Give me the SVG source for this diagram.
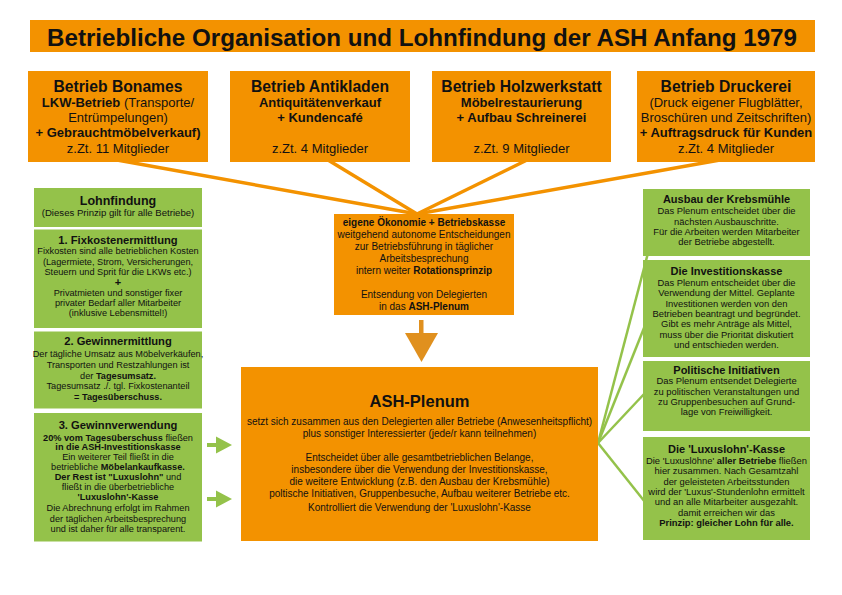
<svg xmlns="http://www.w3.org/2000/svg" width="842" height="595" viewBox="0 0 842 595">
<style>
.o{fill:#F39200}
.g{fill:#94C24A}
.t{font-family:"Liberation Sans",Arial,Helvetica,sans-serif;fill:#111;text-anchor:middle}
.b{font-weight:bold}
.top{font-size:13px}
.toph{font-size:15.7px;font-weight:bold}
.sm{font-size:9.2px}
.smh{font-size:11.2px;font-weight:bold}
.rs{font-size:9.4px}
.rsh{font-size:11px;font-weight:bold}
.md{font-size:10px}
.ol{stroke:#F39200;stroke-width:3.5;fill:none}
.gl{stroke:#94C24A;stroke-width:2.5;fill:none}
.ga{fill:#94C24A}
</style>
<rect width="842" height="595" fill="#fff"/>

<g id="title">
<rect class="o" x="30" y="20" width="785" height="32"/>
<text class="t b" x="422" y="46" font-size="24" textLength="750" lengthAdjust="spacingAndGlyphs">Betriebliche Organisation und Lohnfindung der ASH Anfang 1979</text>
</g>

<g id="connectors">
<line class="ol" x1="117" y1="160" x2="417" y2="214"/>
<line class="ol" x1="328" y1="160" x2="417" y2="214"/>
<line class="ol" x1="527" y1="160" x2="417" y2="214"/>
<line class="ol" x1="720" y1="160" x2="417" y2="214"/>
<rect x="419" y="320" width="4.5" height="14" fill="#E0901E"/>
<polygon points="405,333 438,333 421.5,362" fill="#E0901E"/>
<polygon class="ga" points="207,443 216,443 216,436.5 232,445 216,453.5 216,447 207,447"/>
<polygon class="ga" points="207,497 216,497 216,490.5 232,499 216,507.5 216,501 207,501"/>
<line class="gl" x1="598" y1="443" x2="663" y2="196"/>
<line class="gl" x1="598" y1="443" x2="650" y2="313"/>
<line class="gl" x1="598" y1="443" x2="645" y2="393"/>
<line class="gl" x1="598" y1="443" x2="645" y2="502"/>
</g>

<g id="betrieb-bonames">
<rect class="o" x="28" y="71" width="180" height="91"/>
<text class="t toph" x="118" y="92">Betrieb Bonames</text>
<text class="t top" x="118" y="106.5"><tspan class="b">LKW-Betrieb</tspan> (Transporte/</text>
<text class="t top" x="118" y="121.5">Entrümpelungen)</text>
<text class="t top b" x="118" y="137">+ Gebrauchtmöbelverkauf)</text>
<text class="t top" x="118" y="152.5">z.Zt. 11 Mitglieder</text>
</g>

<g id="betrieb-antikladen">
<rect class="o" x="230" y="71" width="180" height="91"/>
<text class="t toph" x="320" y="92">Betrieb Antikladen</text>
<text class="t top b" x="320" y="106.5">Antiquitätenverkauf</text>
<text class="t top b" x="320" y="121.5">+ Kundencafé</text>
<text class="t top" x="320" y="152.5">z.Zt. 4 Mitglieder</text>
</g>

<g id="betrieb-holzwerkstatt">
<rect class="o" x="432" y="71" width="179" height="91"/>
<text class="t toph" x="521.5" y="92">Betrieb Holzwerkstatt</text>
<text class="t top b" x="521.5" y="106.5">Möbelrestaurierung</text>
<text class="t top b" x="521.5" y="121.5">+ Aufbau Schreinerei</text>
<text class="t top" x="521.5" y="152.5">z.Zt. 9 Mitglieder</text>
</g>

<g id="betrieb-druckerei">
<rect class="o" x="637" y="71" width="178" height="91"/>
<text class="t toph" x="726" y="92">Betrieb Druckerei</text>
<text class="t top" x="726" y="106.5">(Druck eigener Flugblätter,</text>
<text class="t top" x="726" y="121.5">Broschüren und Zeitschriften)</text>
<text class="t top b" x="726" y="137">+ Auftragsdruck für Kunden</text>
<text class="t top" x="726" y="152.5">z.Zt. 4 Mitglieder</text>
</g>

<g id="betriebsebene">
<rect class="o" x="334" y="214" width="180" height="101"/>
<text class="t md b" x="424" y="225.7">eigene Ökonomie + Betriebskasse</text>
<text class="t md" x="424" y="237.7">weitgehend autonome Entscheidungen</text>
<text class="t md" x="424" y="249.7">zur Betriebsführung in täglicher</text>
<text class="t md" x="424" y="261.7">Arbeitsbesprechung</text>
<text class="t md" x="424" y="273.5">intern weiter <tspan class="b">Rotationsprinzip</tspan></text>
<text class="t md" x="424" y="297.5">Entsendung von Delegierten</text>
<text class="t md" x="424" y="309.5">in das <tspan class="b">ASH-Plenum</tspan></text>
</g>

<g id="ash-plenum">
<rect class="o" x="241" y="367" width="357" height="174"/>
<text class="t b" x="419.5" y="406.7" font-size="16.5">ASH-Plenum</text>
<text class="t md" x="419.5" y="425">setzt sich zusammen aus den Delegierten aller Betriebe (Anwesenheitspflicht)</text>
<text class="t md" x="419.5" y="437.3">plus sonstiger Interessierter (jede/r kann teilnehmen)</text>
<text class="t md" x="419.5" y="461">Entscheidet über alle gesamtbetrieblichen Belange,</text>
<text class="t md" x="419.5" y="473">insbesondere über die Verwendung der Investitionskasse,</text>
<text class="t md" x="419.5" y="485">die weitere Entwicklung (z.B. den Ausbau der Krebsmühle)</text>
<text class="t md" x="419.5" y="497">poltische Initiativen, Gruppenbesuche, Aufbau weiterer Betriebe etc.</text>
<text class="t md" x="419.5" y="510.5">Kontrolliert die Verwendung der 'Luxuslohn'-Kasse</text>
</g>

<g id="lohnfindung">
<rect class="g" x="34" y="188" width="168" height="39"/>
<text class="t b" x="118" y="205" font-size="12.5">Lohnfindung</text>
<text class="t" x="118" y="216" font-size="9.6">(Dieses Prinzip gilt für alle Betriebe)</text>
</g>

<g id="fixkostenermittlung">
<rect class="g" x="34" y="229.5" width="168" height="98.5"/>
<text class="t smh" x="118" y="244">1. Fixkostenermittlung</text>
<text class="t sm" x="118" y="254.3">Fixkosten sind alle betrieblichen Kosten</text>
<text class="t sm" x="118" y="264.5">(Lagermiete, Strom, Versicherungen,</text>
<text class="t sm" x="118" y="274.7">Steuern und Sprit für die LKWs etc.)</text>
<text class="t b" x="118" y="285.5" font-size="11">+</text>
<text class="t sm" x="118" y="295.5">Privatmieten und sonstiger fixer</text>
<text class="t sm" x="118" y="305.7">privater Bedarf aller Mitarbeiter</text>
<text class="t sm" x="118" y="316">(inklusive Lebensmittel!)</text>
</g>

<g id="gewinnermittlung">
<rect class="g" x="34" y="331.5" width="168" height="77"/>
<text class="t smh" x="118" y="345">2. Gewinnermittlung</text>
<text class="t sm" x="118" y="356.7">Der tägliche Umsatz aus Möbelverkäufen,</text>
<text class="t sm" x="118" y="367.7">Transporten und Restzahlungen ist</text>
<text class="t sm" x="118" y="378.7">der <tspan class="b">Tagesumsatz.</tspan></text>
<text class="t sm" x="118" y="389.3">Tagesumsatz ./. tgl. Fixkostenanteil</text>
<text class="t sm b" x="118" y="399.5">= Tagesüberschuss.</text>
</g>

<g id="gewinnverwendung">
<rect class="g" x="34" y="413" width="168" height="128.5"/>
<text class="t smh" x="118" y="428.5">3. Gewinnverwendung</text>
<text class="t sm" x="118" y="440.5"><tspan class="b">20% vom Tagesüberschuss</tspan> fließen</text>
<text class="t sm b" x="118" y="450.3">in die ASH-Investitionskasse</text>
<text class="t sm" x="118" y="460">Ein weiterer Teil fließt in die</text>
<text class="t sm" x="118" y="469.7">betriebliche <tspan class="b">Möbelankaufkasse.</tspan></text>
<text class="t sm" x="118" y="479.5"><tspan class="b">Der Rest ist "Luxuslohn"</tspan> und</text>
<text class="t sm" x="118" y="489.5">fließt in die überbetriebliche</text>
<text class="t sm b" x="118" y="500">'Luxuslohn'-Kasse</text>
<text class="t sm" x="118" y="511">Die Abrechnung erfolgt im Rahmen</text>
<text class="t sm" x="118" y="521.5">der täglichen Arbeitsbesprechung</text>
<text class="t sm" x="118" y="531.7">und ist daher für alle transparent.</text>
</g>

<g id="krebsmuehle">
<rect class="g" x="643" y="189" width="167" height="67"/>
<text class="t rsh" x="726.5" y="203.3">Ausbau der Krebsmühle</text>
<text class="t rs" x="726.5" y="214.3">Das Plenum entscheidet über die</text>
<text class="t rs" x="726.5" y="224.5">nächsten Ausbauschritte.</text>
<text class="t rs" x="726.5" y="234.7">Für die Arbeiten werden Mitarbeiter</text>
<text class="t rs" x="726.5" y="245">der Betriebe abgestellt.</text>
</g>

<g id="investitionskasse">
<rect class="g" x="643" y="260" width="167" height="97"/>
<text class="t rsh" x="726.5" y="275">Die Investitionskasse</text>
<text class="t rs" x="726.5" y="286">Das Plenum entscheidet über die</text>
<text class="t rs" x="726.5" y="296.3">Verwendung der Mittel. Geplante</text>
<text class="t rs" x="726.5" y="306.6">Investitionen werden von den</text>
<text class="t rs" x="726.5" y="317">Betrieben beantragt und begründet.</text>
<text class="t rs" x="726.5" y="327.3">Gibt es mehr Anträge als Mittel,</text>
<text class="t rs" x="726.5" y="337.6">muss über die Priorität diskutiert</text>
<text class="t rs" x="726.5" y="348">und entschieden werden.</text>
</g>

<g id="politische-initiativen">
<rect class="g" x="643" y="361" width="167" height="70"/>
<text class="t rsh" x="726.5" y="374">Politische Initiativen</text>
<text class="t rs" x="726.5" y="384.3">Das Plenum entsendet Delegierte</text>
<text class="t rs" x="726.5" y="394.5">zu politischen Veranstaltungen und</text>
<text class="t rs" x="726.5" y="404.7">zu Gruppenbesuchen auf Grund-</text>
<text class="t rs" x="726.5" y="415">lage von Freiwilligkeit.</text>
</g>

<g id="luxuslohn-kasse">
<rect class="g" x="643" y="437" width="167" height="103"/>
<text class="t rsh" x="726.5" y="453.3">Die 'Luxuslohn'-Kasse</text>
<text class="t rs" x="726.5" y="464">Die 'Luxuslöhne' <tspan class="b">aller Betriebe</tspan> fließen</text>
<text class="t rs" x="726.5" y="474.3">hier zusammen. Nach Gesamtzahl</text>
<text class="t rs" x="726.5" y="484.7">der geleisteten Arbeitsstunden</text>
<text class="t rs" x="726.5" y="495">wird der 'Luxus'-Stundenlohn ermittelt</text>
<text class="t rs" x="726.5" y="505.3">und an alle Mitarbeiter ausgezahlt.</text>
<text class="t rs" x="726.5" y="515.6">damit erreichen wir das</text>
<text class="t rs b" x="726.5" y="526">Prinzip: gleicher Lohn für alle.</text>
</g>
</svg>
